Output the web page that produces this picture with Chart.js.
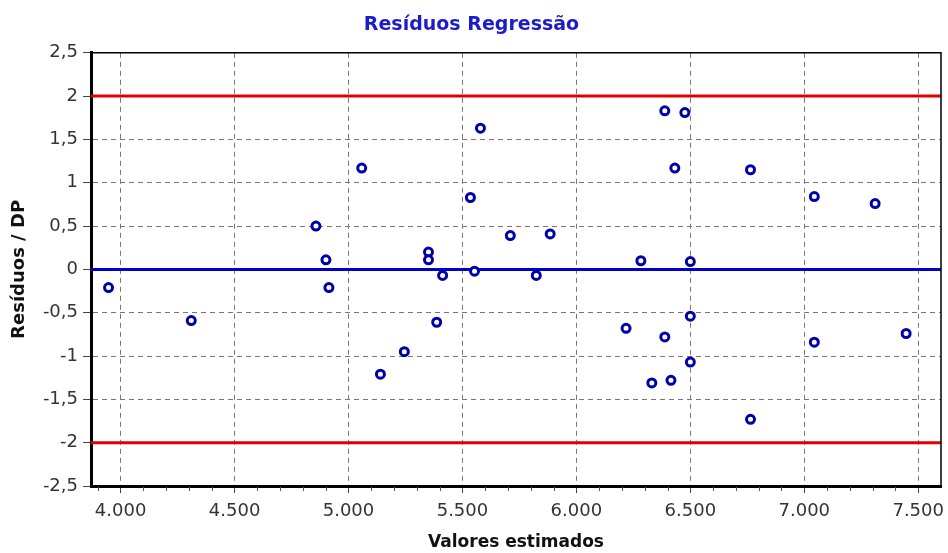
<!DOCTYPE html>
<html>
<head>
<meta charset="utf-8">
<script src="https://cdn.jsdelivr.net/npm/chart.js@4"></script>
<style>
  html, body { margin: 0; padding: 0; background: #ffffff; }
  #residuosChart { display: block; }
</style>
</head>
<body>
<canvas id="residuosChart" width="948" height="553"></canvas>
<script>
// Valores estimados (x) e resíduos padronizados (y)
const valoresEstimados = [3947, 4310, 4857, 4901, 4914, 5058, 5140, 5245, 5351, 5351, 5387, 5413,
    5535, 5553, 5579, 5710, 5824, 5885, 6218, 6283, 6331, 6388, 6388, 6415, 6432, 6476,
    6500, 6500, 6500, 6764, 6764, 7044, 7044, 7311, 7447];
const residuosDP = [-0.21, -0.59, 0.50, 0.11, -0.21, 1.17, -1.21, -0.95, 0.20, 0.11, -0.61, -0.07,
    0.83, -0.02, 1.63, 0.39, -0.07, 0.41, -0.68, 0.10, -1.31, -0.78, 1.83, -1.28, 1.17, 1.81,
    -1.07, -0.54, 0.09, -1.73, 1.15, 0.84, -0.84, 0.76, -0.74];

const limites = [2, -2];       // linhas vermelhas
const linhaZero = 0;           // linha azul
const xMin = 3870, xMax = 7600;
const xTicks = [4000, 4500, 5000, 5500, 6000, 6500, 7000, 7500];
const xMinorTicks = [3900, 4100, 4200, 4300, 4400, 4600, 4700, 4800, 4900, 5100, 5200, 5300, 5400,
    5600, 5700, 5800, 5900, 6100, 6200, 6300, 6400, 6600, 6700, 6800, 6900, 7100, 7200, 7300, 7400];

const pontos = valoresEstimados.map((x, i) => ({ x: x, y: residuosDP[i] }));

function hLine(y) {
    return [{ x: xMin, y: y }, { x: xMax, y: y }];
}

// Moldura fina (topo e direita) e marcas menores do eixo x
const molduraPlugin = {
    id: 'moldura',
    afterDraw(chart) {
        const ctx = chart.ctx;
        const a = chart.chartArea;
        const xs = chart.scales.x;
        ctx.save();
        ctx.strokeStyle = '#000000';
        ctx.lineWidth = 1.5;
        ctx.beginPath();
        ctx.moveTo(a.left, a.top);
        ctx.lineTo(a.right, a.top);
        ctx.lineTo(a.right, a.bottom);
        ctx.stroke();
        ctx.strokeStyle = '#555555';
        ctx.lineWidth = 1;
        xMinorTicks.forEach(v => {
            const px = Math.round(xs.getPixelForValue(v)) + 0.5;
            ctx.beginPath();
            ctx.moveTo(px, a.bottom + 1);
            ctx.lineTo(px, a.bottom + 5);
            ctx.stroke();
        });
        ctx.restore();
    }
};

const ctx = document.getElementById('residuosChart').getContext('2d');
const residuosChart = new Chart(ctx, {
    type: 'scatter',
    data: {
        datasets: [{
            label: 'Resíduos',
            data: pontos,
            order: 0,
            pointRadius: 4,
            pointBorderWidth: 3,
            pointBackgroundColor: '#ffffff',
            pointBorderColor: '#0000a8'
        }, {
            label: 'Zero',
            data: hLine(linhaZero),
            type: 'line',
            order: 1,
            showLine: true,
            pointRadius: 0,
            borderColor: '#0000c8',
            borderWidth: 3
        }, {
            label: 'Limite superior',
            data: hLine(limites[0]),
            type: 'line',
            order: 1,
            showLine: true,
            pointRadius: 0,
            borderColor: '#e00000',
            borderWidth: 3
        }, {
            label: 'Limite inferior',
            data: hLine(limites[1]),
            type: 'line',
            order: 1,
            showLine: true,
            pointRadius: 0,
            borderColor: '#e00000',
            borderWidth: 3
        }]
    },
    options: {
        responsive: false,
        animation: false,
        layout: {
            padding: { left: 0, right: 5, top: 0, bottom: 0 }
        },
        plugins: {
            legend: { display: false },
            tooltip: { enabled: false },
            title: {
                display: true,
                text: 'Resíduos Regressão',
                color: '#1c1cc8',
                font: { family: 'DejaVu Sans', size: 19, weight: 'bold' },
                padding: { top: 14, bottom: 16 }
            }
        },
        scales: {
            x: {
                type: 'linear',
                min: xMin,
                max: xMax,
                afterBuildTicks: function (scale) {
                    scale.ticks = xTicks.map(v => ({ value: v }));
                },
                afterFit: function (scale) {
                    scale.height = 67;
                    scale.paddingLeft = 0;
                    scale.paddingRight = 0;
                },
                ticks: {
                    color: '#333333',
                    font: { family: 'DejaVu Sans', size: 18 },
                    padding: 8,
                    maxRotation: 0,
                    callback: function (value) {
                        return String(value).replace(/\B(?=(\d{3})+(?!\d))/g, '.');
                    }
                },
                grid: {
                    color: '#777777',
                    lineWidth: 1,
                    tickLength: 7,
                    tickColor: '#444444'
                },
                border: {
                    display: true,
                    color: '#000000',
                    width: 3,
                    dash: [5, 4]
                },
                title: {
                    display: true,
                    text: 'Valores estimados',
                    color: '#111111',
                    font: { family: 'DejaVu Sans', size: 17, weight: 'bold' },
                    padding: { top: 0, bottom: 0 }
                }
            },
            y: {
                min: -2.5,
                max: 2.5,
                afterFit: function (scale) {
                    scale.width = 91;
                },
                ticks: {
                    stepSize: 0.5,
                    color: '#333333',
                    font: { family: 'DejaVu Sans', size: 18 },
                    padding: 5,
                    callback: function (value) {
                        return String(value).replace('.', ',');
                    }
                },
                grid: {
                    color: '#777777',
                    lineWidth: 1,
                    tickLength: 8,
                    tickColor: '#444444'
                },
                border: {
                    display: true,
                    color: '#000000',
                    width: 3,
                    dash: [5, 4]
                },
                title: {
                    display: true,
                    text: 'Resíduos / DP',
                    color: '#111111',
                    font: { family: 'DejaVu Sans', size: 18, weight: 'bold' },
                    padding: { top: 9, bottom: 0 }
                }
            }
        }
    },
    plugins: [molduraPlugin]
});
</script>
</body>
</html>
